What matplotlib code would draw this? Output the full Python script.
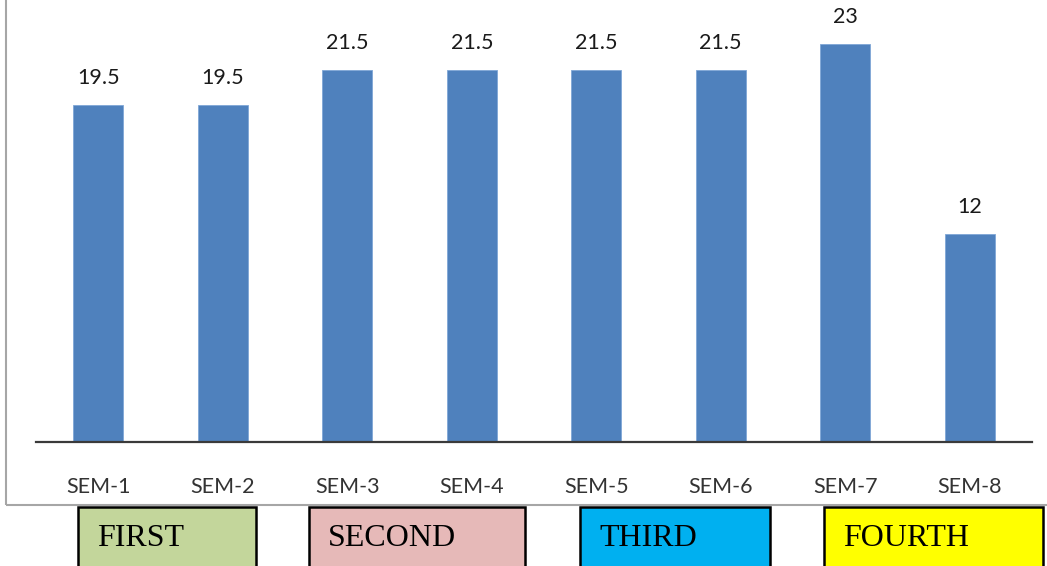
import matplotlib
matplotlib.use('Agg')
import matplotlib.pyplot as plt
from matplotlib.patches import Rectangle

# data
semesters = ['SEM-1', 'SEM-2', 'SEM-3', 'SEM-4', 'SEM-5', 'SEM-6', 'SEM-7', 'SEM-8']
credits = [19.5, 19.5, 21.5, 21.5, 21.5, 21.5, 23, 12]
years = ['FIRST', 'SECOND', 'THIRD', 'FOURTH']
year_colors = ['#C3D69B', '#E6B9B8', '#00B0F0', '#FFFF00']

W, H = 1047, 566
fig = plt.figure(figsize=(W / 100, H / 100), dpi=100)

def fx(px):
    return px / W

def fy(py):
    return 1 - py / H

# outer chart frame (only left and bottom edges are in view)
fig.patches.append(Rectangle((fx(6), fy(505)), 1.2, 1.2, transform=fig.transFigure,
                             fill=False, edgecolor='#A6A6A6', linewidth=1.5))

ax = fig.add_axes([fx(36), fy(442), fx(1032) - fx(36), fy(0) - fy(442)])
x = list(range(len(semesters)))
bars = ax.bar(x, credits, width=0.40, color='#4F81BD', edgecolor='#7FA6D6', linewidth=0.6)
ax.set_xlim(-0.5, len(semesters) - 0.5)
ax.set_ylim(0, 25.55)

for rect, v in zip(bars, credits):
    ax.annotate(f'{v:g}', (rect.get_x() + rect.get_width() / 2, v), xytext=(0, 19.5),
                textcoords='offset points', ha='center', va='center',
                fontsize=15.5, family='Lato', color='#1A1A1A')

for s in ['top', 'right', 'left']:
    ax.spines[s].set_visible(False)
ax.spines['bottom'].set_color('#3A3A3A')
ax.spines['bottom'].set_linewidth(1.6)
ax.set_yticks([])
ax.set_xticks(x)
ax.set_xticklabels(semesters, fontsize=15.5, family='Lato', color='#333333')
ax.tick_params(axis='x', length=0, pad=25)

# year boxes under the axis
box_left = [78, 309, 580, 824]
box_right = [256, 525, 770, 1043]
for name, col, l, r in zip(years, year_colors, box_left, box_right):
    fig.patches.append(Rectangle((fx(l), fy(600)), fx(r) - fx(l), fy(507) - fy(600),
                                 transform=fig.transFigure, facecolor=col,
                                 edgecolor='black', linewidth=1.8))
    fig.text(fx(l + 19), fy(538), name, ha='left', va='center', fontsize=23,
             family='Liberation Serif', color='black')

fig.savefig('out.png', dpi=100)
